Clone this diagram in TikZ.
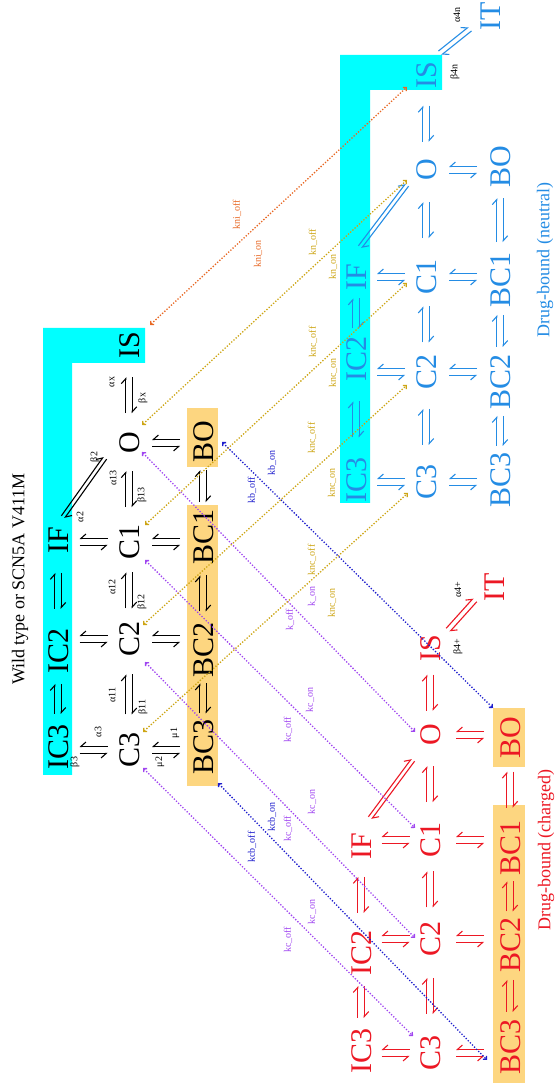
\documentclass[tikz,border=0pt]{standalone}
\usepackage{fontspec}
\setmainfont{Liberation Serif}
\usetikzlibrary{arrows.meta,calc}

\definecolor{boxcyan}{RGB}{0,255,255}
\definecolor{boxorange}{RGB}{253,214,128}
\definecolor{chargedred}{RGB}{236,24,36}
\definecolor{neutralblue}{RGB}{36,140,228}
\definecolor{kviolet}{RGB}{160,70,240}
\definecolor{kblue}{RGB}{30,30,205}
\definecolor{kgold}{RGB}{205,165,20}
\definecolor{korange}{RGB}{232,104,36}

\tikzset{
  state/.style={inner sep=2pt, font=\fontsize{30}{30}\selectfont,
    text height=20pt, text depth=0pt},
  rstate/.style={state, text=chargedred},
  nstate/.style={state, text=neutralblue},
  rate/.style={inner sep=0pt, font=\fontsize{10}{10}\selectfont},
  klab/.style={inner sep=0pt, font=\fontsize{10}{10}\selectfont},
  heading/.style={inner sep=0pt, font=\fontsize{18}{18}\selectfont},
  harpl/.style={line width=1.1pt, -{Straight Barb[harpoon, length=5pt, width=9pt]}},
  harpr/.style={line width=1.1pt, -{Straight Barb[harpoon, swap, length=5pt, width=9pt]}},
  bind/.style={line width=1.3pt, dash pattern=on 1.3pt off 1.7pt,
    {Straight Barb[angle=90:3.5pt]}-{Straight Barb[angle=90:3.5pt]}},
}

% reversible pair along P -> Q; the strand left of P -> Q points to Q
\newcommand\rxnL[4][3.2pt]{%
  \draw[harpl,#2] ($(#3)!#1!90:(#4)$) -- ($(#4)!#1!-90:(#3)$);
  \draw[harpl,#2] ($(#4)!#1!90:(#3)$) -- ($(#3)!#1!-90:(#4)$);}
% mirrored pair: the strand right of P -> Q points to Q
\newcommand\rxnR[4][3.5pt]{%
  \draw[harpr,#2] ($(#3)!#1!-90:(#4)$) -- ($(#4)!#1!90:(#3)$);
  \draw[harpr,#2] ($(#4)!#1!-90:(#3)$) -- ($(#3)!#1!90:(#4)$);}
% step between two neighbouring states of one row
\newcommand\hstep[4][18pt]{%
  \coordinate (hm) at ($(#3.east)!0.5!(#4.west)$);
  \coordinate (hp) at ($(hm)!#1!(#3.east)$);
  \coordinate (hq) at ($(hm)!#1!(#4.west)$);
  \rxnL{#2}{hp}{hq}}
% step between two rows, lined up with the state given last
\newcommand\vstep[5][14pt]{%
  \coordinate (vm) at ($(#3.south)!0.5!(#4.north)$);
  \coordinate (vc) at (#5 |- vm);
  \coordinate (vp) at ($(vc)!#1!(vc |- #3)$);
  \coordinate (vq) at ($(vc)!#1!(vc |- #4)$);
  \rxnR{#2}{vp}{vq}}

\begin{document}
\begin{tikzpicture}[x=1pt,y=1pt]
\useasboundingbox (0,0) rectangle (555,1086);
\begin{scope}[rotate=90, transform shape]
% ---------- shaded groups
\fill[boxcyan] (311,-43) -- (758,-43) -- (758,-145) -- (723,-145) -- (723,-72) -- (311,-72) -- cycle;
\fill[boxorange] (300,-187) rectangle (581,-218);
\fill[boxorange] (619,-187) rectangle (678,-218);
\fill[boxorange] (3,-493) rectangle (281,-525);
\fill[boxorange] (319,-493) rectangle (378,-525);
\fill[boxcyan] (583,-340) -- (1031,-340) -- (1031,-442) -- (996,-442) -- (996,-370) -- (583,-370) -- cycle;

% ---------- headings
\node[heading] (wtitle) at (507,-20) {Wild type or SCN5A V411M};
\node[heading, text=chargedred] (rtitle) at (236,-546) {Drug-bound (charged)};
\node[heading, text=neutralblue] (ntitle) at (826,-545) {Drug-bound (neutral)};

% ---------- wild type states
\node[state] (wIC3) at (339,-58) {IC3};
\node[state] (wIC2) at (435,-58) {IC2};
\node[state] (wIF)  at (546,-58) {IF};
\node[state] (wC3)  at (336,-129) {C3};
\node[state] (wC2)  at (447,-129) {C2};
\node[state] (wC1)  at (544,-129) {C1};
\node[state] (wO)   at (643,-129) {O};
\node[state] (wIS)  at (741,-129) {IS};
\node[state] (wBC3) at (339,-203) {BC3};
\node[state] (wBC2) at (436,-203) {BC2};
\node[state] (wBC1) at (549,-203) {BC1};
\node[state] (wBO)  at (644,-203) {BO};

% ---------- charged drug-bound states
\node[rstate] (rIC3) at (35,-361) {IC3};
\node[rstate] (rIC2) at (133,-361) {IC2};
\node[rstate] (rIF)  at (240,-361) {IF};
\node[rstate] (rC3)  at (33,-430) {C3};
\node[rstate] (rC2)  at (147,-430) {C2};
\node[rstate] (rC1)  at (246,-430) {C1};
\node[rstate] (rO)   at (351,-430) {O};
\node[rstate] (rIS)  at (438,-430) {IS};
\node[rstate] (rIT)  at (499,-494) {IT};
\node[rstate] (rBC3) at (39,-510) {BC3};
\node[rstate] (rBC2) at (141,-510) {BC2};
\node[rstate] (rBC1) at (238,-510) {BC1};
\node[rstate] (rBO)  at (348,-510) {BO};

% ---------- neutral drug-bound states
\node[nstate] (nIC3) at (606,-356) {IC3};
\node[nstate] (nIC2) at (727,-356) {IC2};
\node[nstate] (nIF)  at (809,-356) {IF};
\node[nstate] (nC3)  at (604,-426) {C3};
\node[nstate] (nC2)  at (714,-426) {C2};
\node[nstate] (nC1)  at (809,-426) {C1};
\node[nstate] (nO)   at (916,-426) {O};
\node[nstate] (nIS)  at (1011,-426) {IS};
\node[nstate] (nIT)  at (1070,-490) {IT};
\node[nstate] (nBC3) at (606,-500) {BC3};
\node[nstate] (nBC2) at (704,-500) {BC2};
\node[nstate] (nBC1) at (806,-500) {BC1};
\node[nstate] (nBO)  at (919,-500) {BO};

% ---------- wild type transitions
\hstep[15pt]{black}{wIC3}{wIC2}
\hstep{black}{wIC2}{wIF}
\hstep[20pt]{black}{wC3}{wC2}
\hstep{black}{wC2}{wC1}
\hstep{black}{wC1}{wO}
\hstep{black}{wO}{wIS}
\hstep[15pt]{black}{wBC3}{wBC2}
\hstep{black}{wBC2}{wBC1}
\hstep[16pt]{black}{wBC1}{wBO}
\vstep{black}{wIC3}{wC3}{wC3}
\vstep{black}{wIC2}{wC2}{wC2}
\vstep{black}{wIF}{wC1}{wC1}
\vstep{black}{wC3}{wBC3}{wC3}
\vstep{black}{wC2}{wBC2}{wC2}
\vstep{black}{wC1}{wBC1}{wC1}
\vstep{black}{wO}{wBO}{wO}
\coordinate (wdA) at ($(wIF)+(23,-5)$);
\coordinate (wdB) at ($(wO)+(-15,24)$);
\rxnL[2pt]{black}{wdA}{wdB}

% ---------- charged transitions
\hstep[16pt]{chargedred}{rIC3}{rIC2}
\hstep{chargedred}{rIC2}{rIF}
\hstep{chargedred}{rC3}{rC2}
\hstep{chargedred}{rC2}{rC1}
\hstep{chargedred}{rC1}{rO}
\hstep{chargedred}{rO}{rIS}
\hstep[16pt]{chargedred}{rBC3}{rBC2}
\hstep[15pt]{chargedred}{rBC2}{rBC1}
\hstep{chargedred}{rBC1}{rBO}
\vstep{chargedred}{rIC3}{rC3}{rC3}
\vstep{chargedred}{rIC2}{rC2}{rC2}
\vstep{chargedred}{rIF}{rC1}{rC1}
\vstep{chargedred}{rC3}{rBC3}{rC3}
\vstep{chargedred}{rC2}{rBC2}{rC2}
\vstep{chargedred}{rC1}{rBC1}{rC1}
\vstep{chargedred}{rO}{rBO}{rO}
\coordinate (rdA) at ($(rIF)+(28,-9)$);
\coordinate (rdB) at ($(rO)+(-25,17)$);
\rxnL[2pt]{chargedred}{rdA}{rdB}
\coordinate (rtA) at ($(rIS)+(18,-18)$);
\coordinate (rtB) at ($(rIT)+(-13,19)$);
\rxnL[2.5pt]{chargedred}{rtA}{rtB}

% ---------- neutral transitions
\hstep{neutralblue}{nIC3}{nIC2}
\hstep[15pt]{neutralblue}{nIC2}{nIF}
\hstep{neutralblue}{nC3}{nC2}
\hstep{neutralblue}{nC2}{nC1}
\hstep{neutralblue}{nC1}{nO}
\hstep{neutralblue}{nO}{nIS}
\hstep[15pt]{neutralblue}{nBC3}{nBC2}
\hstep[16pt]{neutralblue}{nBC2}{nBC1}
\hstep[22pt]{neutralblue}{nBC1}{nBO}
\vstep{neutralblue}{nIC3}{nC3}{nC3}
\vstep{neutralblue}{nIC2}{nC2}{nC2}
\vstep{neutralblue}{nIF}{nC1}{nC1}
\vstep{neutralblue}{nC3}{nBC3}{nC3}
\vstep{neutralblue}{nC2}{nBC2}{nC2}
\vstep{neutralblue}{nC1}{nBC1}{nC1}
\vstep{neutralblue}{nO}{nBO}{nO}
\coordinate (ndA) at ($(nIF)+(30,-4)$);
\coordinate (ndB) at ($(nO)+(-15,19)$);
\rxnL[2pt]{neutralblue}{ndA}{ndB}
\coordinate (ntA) at ($(nIS)+(22,-14)$);
\coordinate (ntB) at ($(nIT)+(-13,20)$);
\rxnL[2.5pt]{neutralblue}{ntA}{ntB}

% ---------- rate constants
\node[rate] (la3)  at (354,-98)  {α3};
\node[rate] (lb3)  at (324,-75)  {β3};
\node[rate] (lm1)  at (353,-175) {μ1};
\node[rate] (lm2)  at (324,-160) {μ2};
\node[rate] (la11) at (391,-112) {α11};
\node[rate] (lb11) at (379,-143) {β11};
\node[rate] (la12) at (499,-112) {α12};
\node[rate] (lb12) at (484,-142) {β12};
\node[rate] (la13) at (608,-113) {α13};
\node[rate] (lb13) at (591,-142) {β13};
\node[rate] (lax)  at (704,-112) {αx};
\node[rate] (lbx)  at (688,-143) {βx};
\node[rate] (la2)  at (569,-80)  {α2};
\node[rate] (lb2)  at (629,-95)  {β2};
\node[rate] (la4p) at (496,-458) {α4+};
\node[rate] (lb4p) at (439,-458) {β4+};
\node[rate] (la4n) at (1071,-457) {α4n};
\node[rate] (lb4n) at (1014,-455) {β4n};

% ---------- drug binding and unbinding
\coordinate (vC3a) at ($(wC3)+(-18,-14)$);  \coordinate (vC3b) at ($(rC3)+(17,17)$);
\coordinate (vC2a) at ($(wC2)+(-23,-16)$);  \coordinate (vC2b) at ($(rC2)+(1,15)$);
\coordinate (vC1a) at ($(wC1)+(-18,-16)$);  \coordinate (vC1b) at ($(rC1)+(12,15)$);
\coordinate (vOa)  at ($(wO)+(-9,-13)$);    \coordinate (vOb)  at ($(rO)+(3,15)$);
\coordinate (bC3a) at ($(wBC3)+(-36,-15)$); \coordinate (bC3b) at ($(rBC3)+(-13,23)$);
\coordinate (bOa)  at ($(wBO)+(0,-19)$);    \coordinate (bOb)  at ($(rBO)+(30,17)$);
\coordinate (gC3a) at ($(wC3)+(18,-14)$);   \coordinate (gC3b) at ($(nC3)+(-11,18)$);
\coordinate (gC2a) at ($(wC2)+(14,-14)$);   \coordinate (gC2b) at ($(nC2)+(-13,19)$);
\coordinate (gC1a) at ($(wC1)+(17,-16)$);   \coordinate (gC1b) at ($(nC1)+(-6,19)$);
\coordinate (gOa)  at ($(wO)+(18,-13)$);    \coordinate (gOb)  at ($(nO)+(-10,19)$);
\coordinate (oSa)  at ($(wIS)+(20,-21)$);   \coordinate (oSb)  at ($(nIS)+(-12,19)$);

\draw[bind, kviolet] (vC3a) -- (vC3b);
\draw[bind, kviolet] (vC2a) -- (vC2b);
\draw[bind, kviolet] (vC1a) -- (vC1b);
\draw[bind, kviolet] (vOa) -- (vOb);
\draw[bind, kblue] (bC3a) -- (bC3b);
\draw[bind, kblue] (bOa) -- (bOb);
\draw[bind, kgold] (gC3a) -- (gC3b);
\draw[bind, kgold] (gC2a) -- (gC2b);
\draw[bind, kgold] (gC1a) -- (gC1b);
\draw[bind, kgold] (gOa) -- (gOb);
\draw[bind, korange] (oSa) -- (oSb);

\node[klab, text=kviolet] (t1) at (146,-288) {kc\_off};
\node[klab, text=kviolet] (t2) at (174,-312) {kc\_on};
\node[klab, text=kviolet] (t3) at (257,-288) {kc\_off};
\node[klab, text=kviolet] (t4) at (284,-312) {kc\_on};
\node[klab, text=kviolet] (t5) at (356,-288) {kc\_off};
\node[klab, text=kviolet] (t6) at (386,-310) {kc\_on};
\node[klab, text=kviolet] (t7) at (466,-290) {k\_off};
\node[klab, text=kviolet] (t8) at (489,-312) {k\_on};
\node[klab, text=kblue] (t9)  at (239,-252) {kcb\_off};
\node[klab, text=kblue] (t10) at (269,-272) {kcb\_on};
\node[klab, text=kblue] (t11) at (596,-252) {kb\_off};
\node[klab, text=kblue] (t12) at (623,-272) {kb\_on};
\node[klab, text=kgold] (t13) at (526,-312) {knc\_off};
\node[klab, text=kgold] (t14) at (483,-332) {knc\_on};
\node[klab, text=kgold] (t15) at (648,-312) {knc\_off};
\node[klab, text=kgold] (t16) at (603,-332) {knc\_on};
\node[klab, text=kgold] (t17) at (744,-313) {knc\_off};
\node[klab, text=kgold] (t18) at (713,-333) {knc\_on};
\node[klab, text=kgold] (t19) at (844,-313) {kn\_off};
\node[klab, text=kgold] (t20) at (819,-333) {kn\_on};
\node[klab, text=korange] (t21) at (871,-237) {kni\_off};
\node[klab, text=korange] (t22) at (832,-258) {kni\_on};
\end{scope}
\end{tikzpicture}
\end{document}
